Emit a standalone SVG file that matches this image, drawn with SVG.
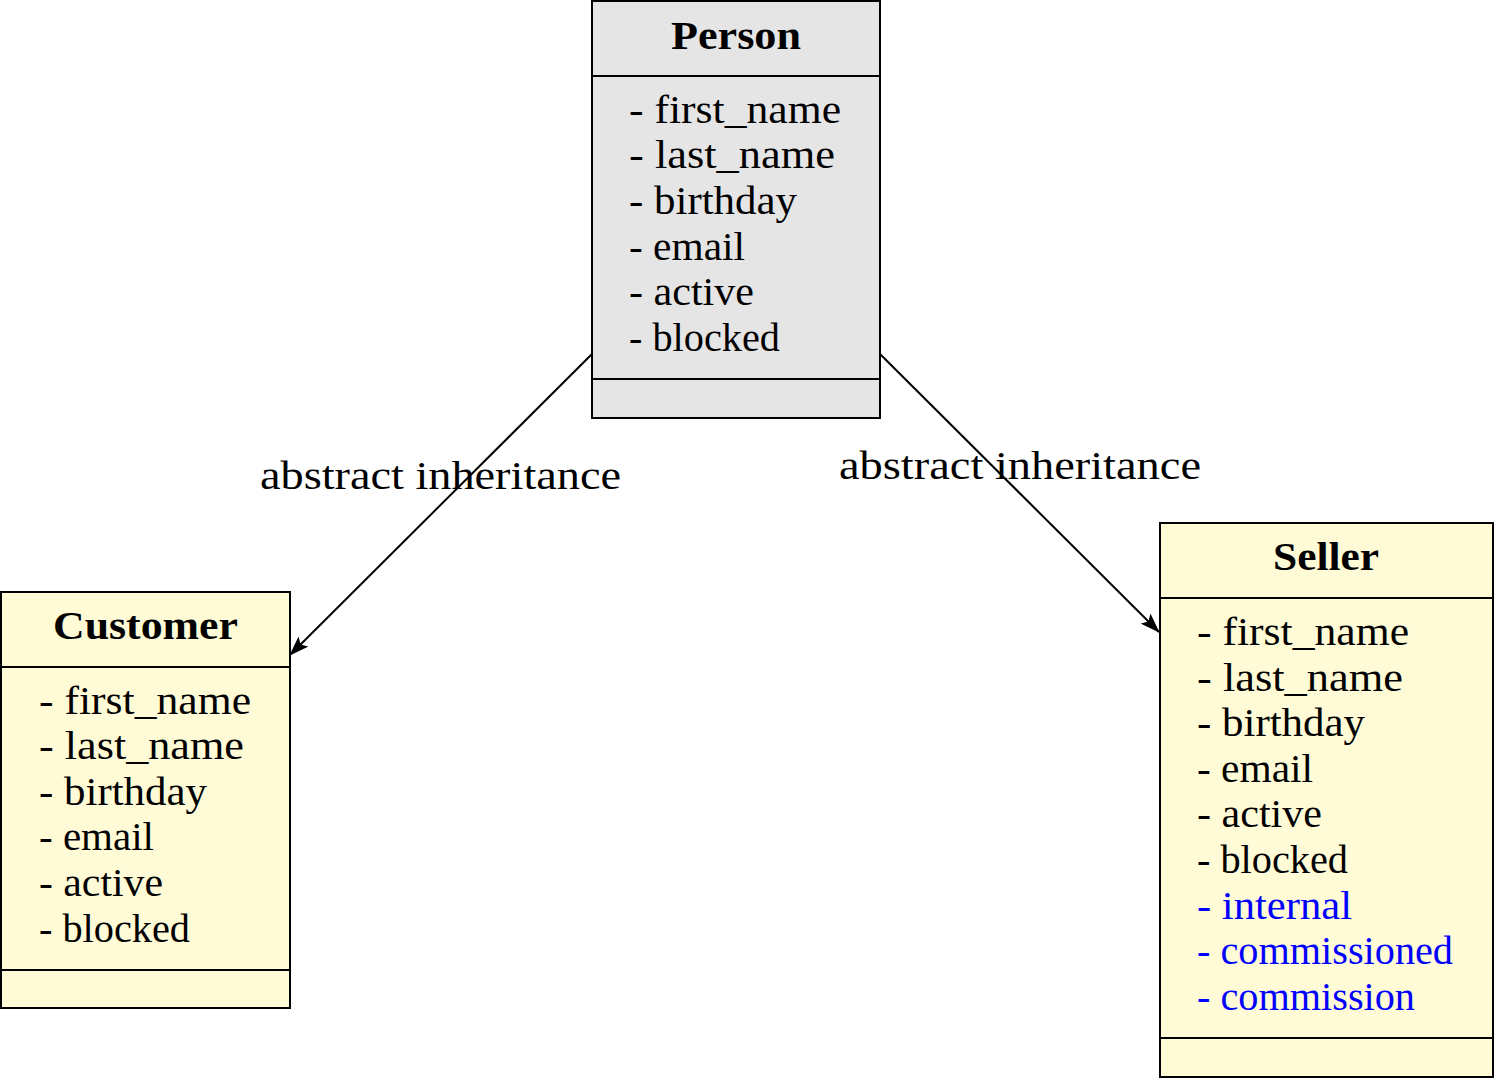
<svg xmlns="http://www.w3.org/2000/svg" width="1494" height="1078" viewBox="0 0 1494 1078">
<style>
.box{stroke:#000;stroke-width:2}
.gray{fill:#E5E5E5}
.yel{fill:#FFFBD6}
.sep{stroke:#000;stroke-width:2}
text{font-family:'Liberation Serif','DejaVu Serif','Times New Roman',serif;font-size:40px;fill:#000}
.t{font-weight:bold;text-anchor:middle}
.blue{fill:#0000FF}
.conn{stroke:#000;stroke-width:2;fill:none}
</style>
<defs>
<marker id="ah" viewBox="0 0 20 14" refX="19" refY="7" markerWidth="20" markerHeight="14" markerUnits="userSpaceOnUse" orient="auto">
<path d="M0,0 L20,7 L0,14 L4,7 Z" fill="#000"/>
</marker>
</defs>
<g id="connectors">
<line class="conn" x1="592" y1="354" x2="290" y2="655" marker-end="url(#ah)"/>
<line class="conn" x1="880" y1="354" x2="1159" y2="632" marker-end="url(#ah)"/>
<text x="260" y="489" textLength="361" lengthAdjust="spacingAndGlyphs">abstract inheritance</text>
<text x="839" y="479" textLength="362" lengthAdjust="spacingAndGlyphs">abstract inheritance</text>
</g>
<g id="person">
<rect class="box gray" x="592" y="1" width="288" height="417"/>
<line class="sep" x1="592" y1="76" x2="880" y2="76"/>
<line class="sep" x1="592" y1="379" x2="880" y2="379"/>
<text class="t" x="736" y="49" textLength="130" lengthAdjust="spacingAndGlyphs">Person</text>
<text x="629" y="123" textLength="212" lengthAdjust="spacingAndGlyphs">- first_name</text>
<text x="629" y="168" textLength="206" lengthAdjust="spacingAndGlyphs">- last_name</text>
<text x="629" y="214" textLength="168" lengthAdjust="spacingAndGlyphs">- birthday</text>
<text x="629" y="260" textLength="116" lengthAdjust="spacingAndGlyphs">- email</text>
<text x="629" y="305" textLength="125" lengthAdjust="spacingAndGlyphs">- active</text>
<text x="629" y="351" textLength="151" lengthAdjust="spacingAndGlyphs">- blocked</text>
</g>
<g id="customer">
<rect class="box yel" x="1" y="592" width="289" height="416"/>
<line class="sep" x1="1" y1="667" x2="290" y2="667"/>
<line class="sep" x1="1" y1="970" x2="290" y2="970"/>
<text class="t" x="145.5" y="639" textLength="185" lengthAdjust="spacingAndGlyphs">Customer</text>
<text x="39" y="714" textLength="212" lengthAdjust="spacingAndGlyphs">- first_name</text>
<text x="39" y="759" textLength="205" lengthAdjust="spacingAndGlyphs">- last_name</text>
<text x="39" y="805" textLength="168" lengthAdjust="spacingAndGlyphs">- birthday</text>
<text x="39" y="850" textLength="115" lengthAdjust="spacingAndGlyphs">- email</text>
<text x="39" y="896" textLength="124" lengthAdjust="spacingAndGlyphs">- active</text>
<text x="39" y="942" textLength="151" lengthAdjust="spacingAndGlyphs">- blocked</text>
</g>
<g id="seller">
<rect class="box yel" x="1160" y="523" width="333" height="554"/>
<line class="sep" x1="1160" y1="598" x2="1493" y2="598"/>
<line class="sep" x1="1160" y1="1038" x2="1493" y2="1038"/>
<text class="t" x="1326" y="570" textLength="106" lengthAdjust="spacingAndGlyphs">Seller</text>
<text x="1197" y="645" textLength="212" lengthAdjust="spacingAndGlyphs">- first_name</text>
<text x="1197" y="691" textLength="206" lengthAdjust="spacingAndGlyphs">- last_name</text>
<text x="1197" y="736" textLength="168" lengthAdjust="spacingAndGlyphs">- birthday</text>
<text x="1197" y="782" textLength="116" lengthAdjust="spacingAndGlyphs">- email</text>
<text x="1197" y="827" textLength="125" lengthAdjust="spacingAndGlyphs">- active</text>
<text x="1197" y="873" textLength="151" lengthAdjust="spacingAndGlyphs">- blocked</text>
<text class="blue" x="1197" y="919" textLength="155" lengthAdjust="spacingAndGlyphs">- internal</text>
<text class="blue" x="1197" y="964" textLength="256" lengthAdjust="spacingAndGlyphs">- commissioned</text>
<text class="blue" x="1197" y="1010" textLength="218" lengthAdjust="spacingAndGlyphs">- commission</text>
</g>
</svg>
